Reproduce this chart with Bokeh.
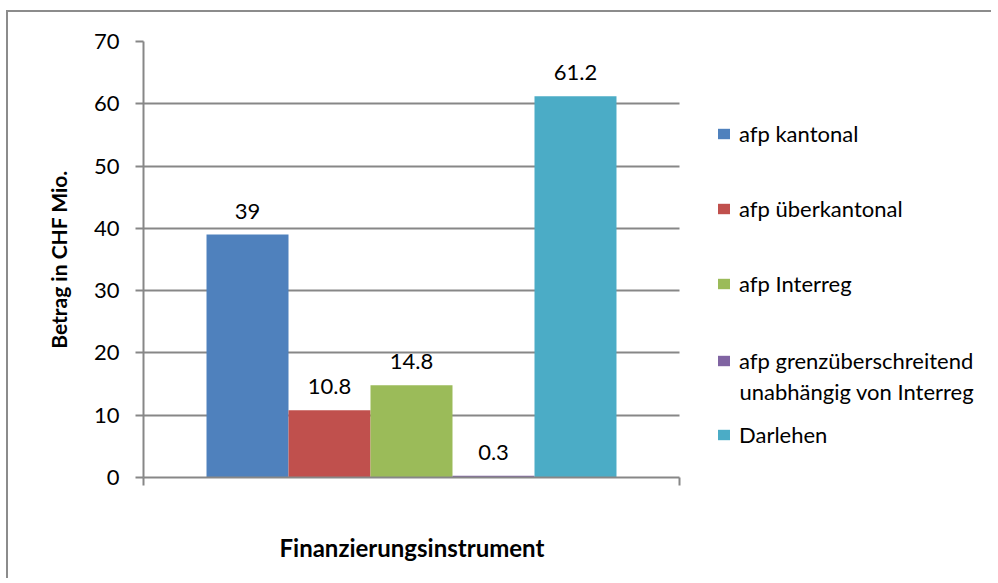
from bokeh.plotting import figure
from bokeh.models import (Range1d, FixedTicker, Legend, LegendItem, Label,
                          ColumnDataSource, LabelSet, Title)
from bokeh.core.properties import value
from bokeh.embed import file_html
from bokeh.resources import INLINE

# ---- data ----
series = ["afp kantonal", "afp überkantonal", "afp Interreg",
          "afp grenzüberschreitend", "Darlehen"]
series_line2 = ["", "", "", "unabhängig von Interreg", ""]
values = [39, 10.8, 14.8, 0.3, 61.2]
value_labels = ["39", "10.8", "14.8", "0.3", "61.2"]
colors = ["#4F81BD", "#C0504D", "#9BBB59", "#8064A2", "#4BACC6"]
y_ticks = [0, 10, 20, 30, 40, 50, 60, 70]
x_title = "Finanzierungsinstrument"
y_title = "Betrag in CHF Mio."

GRAY = "#878787"
FONT = "Lato"

W, H = 985, 568
LEFT, RIGHT, TOP, BOTTOM = 135, 5, 29, 103
PLOT_W = 536  # pixel width of the category area
x_end = (W - LEFT - RIGHT) / PLOT_W

p = figure(width=W, height=H, output_backend="svg", toolbar_location=None,
           x_range=Range1d(0, x_end), y_range=Range1d(0, 70),
           min_border_left=LEFT, min_border_right=RIGHT,
           min_border_top=TOP, min_border_bottom=BOTTOM)
p.styles = {"border-left": "2px solid #8c8c8c", "border-top": "2px solid #8c8c8c",
            "margin-top": "10px", "margin-left": "6px"}
p.outline_line_color = None
p.background_fill_color = "white"
p.border_fill_color = "white"

# bars, Excel-like clustered with gap
n = len(values)
gap = 1.537
bw = 1.0 / (n + gap)
xs = [0.5 + (i - (n - 1) / 2) * bw for i in range(n)]

renderers = []
for i in range(n):
    r = p.vbar(x=[xs[i]], top=[values[i]], width=bw, bottom=0,
               fill_color=colors[i], line_color=None)
    renderers.append(r)

src = ColumnDataSource(dict(x=xs, y=values, t=value_labels))
p.add_layout(LabelSet(x="x", y="y", text="t", source=src, y_offset=16,
                      text_align="center", text_baseline="alphabetic",
                      text_font=value(FONT), text_font_size="22px",
                      text_color="black"))

# axes
p.xgrid.visible = False
p.ygrid.grid_line_color = GRAY
p.ygrid.grid_line_width = 2
p.ygrid.ticker = FixedTicker(ticks=y_ticks)
p.ygrid.cross_bounds = (0, 1)

ya = p.yaxis[0]
ya.ticker = FixedTicker(ticks=y_ticks)
ya.axis_line_color = GRAY
ya.axis_line_width = 2
ya.major_tick_line_color = GRAY
ya.major_tick_line_width = 2
ya.major_tick_in = 0
ya.major_tick_out = 8
ya.minor_tick_line_color = None
ya.major_label_text_font = FONT
ya.major_label_text_font_size = "22px"
ya.major_label_text_color = "black"
ya.major_label_standoff = 16
ya.axis_label = y_title
ya.axis_label_text_font = FONT
ya.axis_label_text_font_style = "bold"
ya.axis_label_text_font_size = "21px"
ya.axis_label_text_color = "black"
ya.axis_label_standoff = 20

xa = p.xaxis[0]
xa.ticker = FixedTicker(ticks=[0, 1])
xa.bounds = (0, 1)
xa.major_label_overrides = {0: " ", 1: " "}
xa.major_label_text_font = FONT
xa.major_label_text_font_size = "22px"
xa.major_label_standoff = 0
xa.axis_line_color = GRAY
xa.axis_line_width = 2
xa.major_tick_line_color = GRAY
xa.major_tick_line_width = 2
xa.major_tick_in = 0
xa.major_tick_out = 8
xa.minor_tick_line_color = None

# x-axis title, centred under the category area (not under the legend)
p.add_layout(Title(text=x_title, align="left", offset=136, standoff=30,
                   text_font=FONT, text_font_style="bold",
                   text_font_size="24px", text_color="black"), "below")

# legends, one per entry (Excel spreads entries unevenly)
leg_x = 573
leg_centers = [342, 267.5, 192, 115.5, 41]
item_h = 24
for i in range(n):
    leg = Legend(items=[LegendItem(label=series[i], renderers=[renderers[i]])],
                 location=(leg_x, leg_centers[i] - item_h / 2),
                 padding=0, margin=0, spacing=0,
                 border_line_alpha=0, background_fill_alpha=0,
                 glyph_width=15, glyph_height=13, label_standoff=8,
                 label_height=item_h,
                 label_text_font=FONT, label_text_font_size="22px",
                 label_text_color="black")
    p.add_layout(leg)
    if series_line2[i]:
        p.add_layout(Label(x=leg_x + 23, y=leg_centers[i] - 29,
                           x_units="screen", y_units="screen",
                           text=series_line2[i], text_baseline="middle",
                           text_font=FONT, text_font_size="22px",
                           text_color="black"))

open("out.html", "w").write(file_html(p, INLINE))
